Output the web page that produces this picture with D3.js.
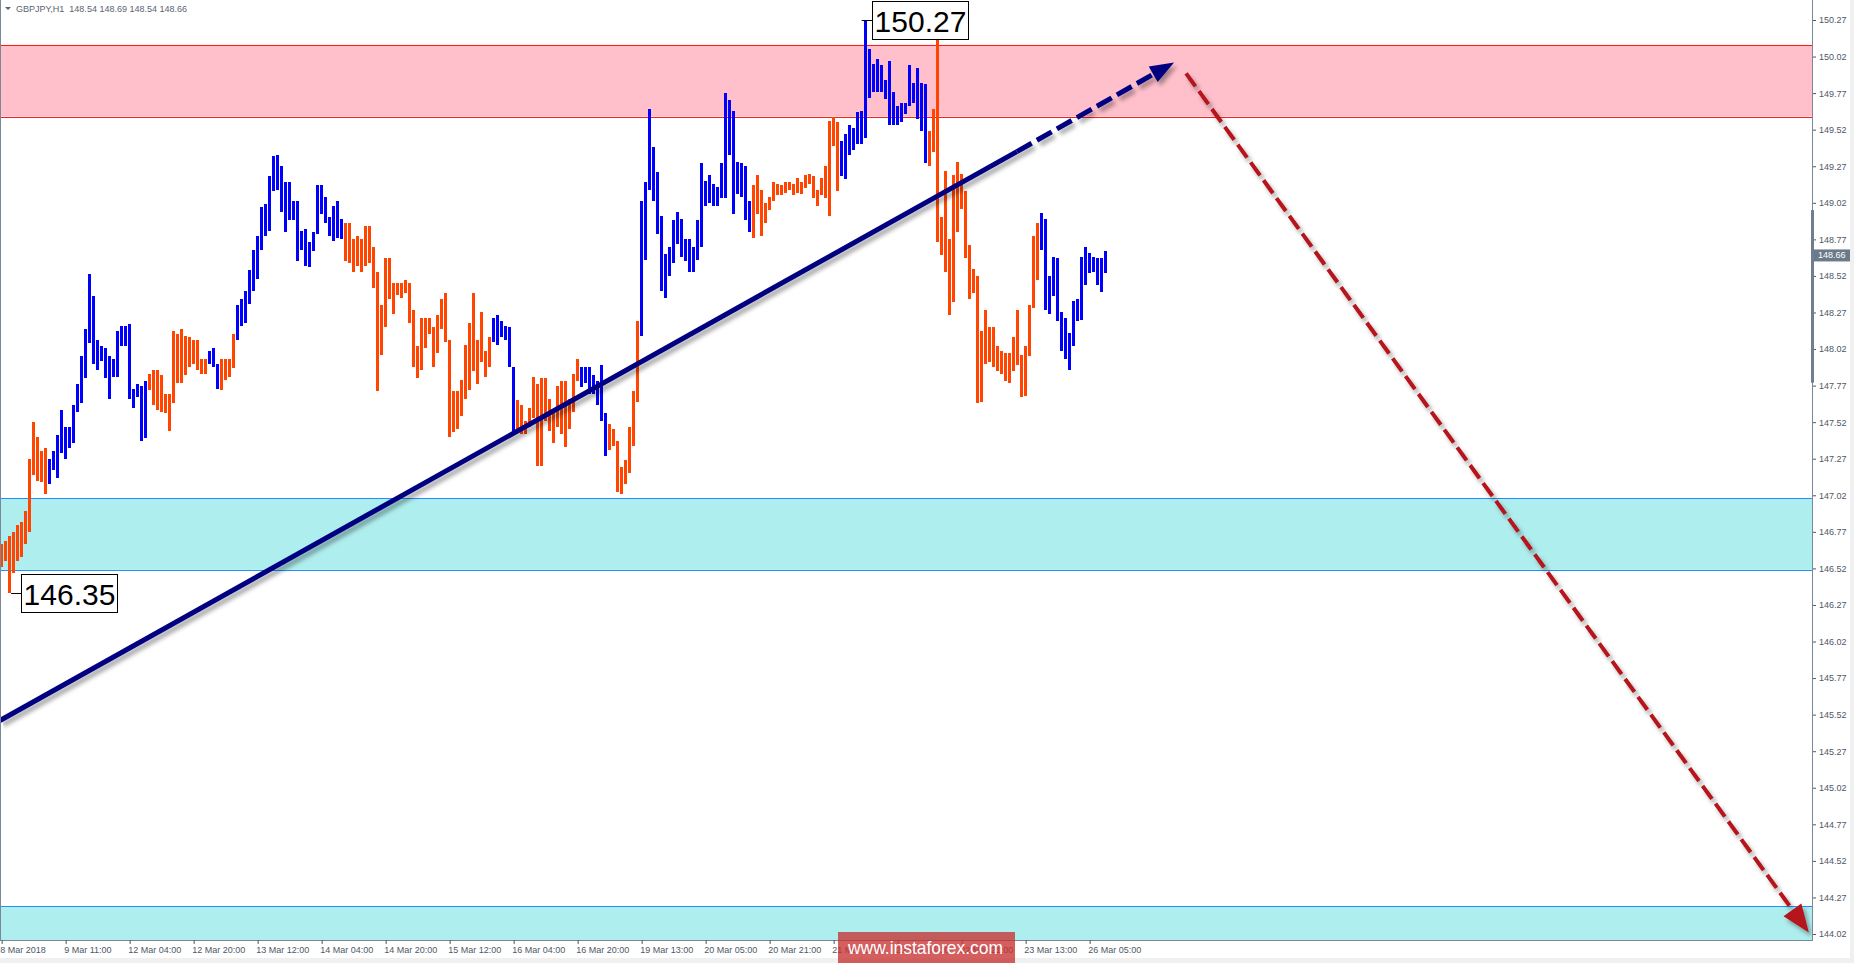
<!DOCTYPE html>
<html><head><meta charset="utf-8">
<script src="https://cdn.jsdelivr.net/npm/d3@7"></script>
<style>
html,body{margin:0;padding:0;background:#fff;overflow:hidden;}
svg{display:block;}
</style></head><body>
<svg id="c" width="1854" height="963"></svg>
<script>
// ---------------- data ----------------
const headerText = "GBPJPY,H1  148.54 148.69 148.54 148.66";
const currentPrice = 148.66;

const highs = [
146.69,146.71,146.74,146.77,146.82,146.84,146.91,147.27,147.52,147.42,
147.32,147.34,147.27,147.32,147.43,147.60,147.49,147.49,147.64,147.78,
147.97,148.16,148.53,148.38,148.08,148.04,148.03,147.97,147.95,148.14,
148.18,148.18,148.19,147.75,147.78,147.77,147.80,147.85,147.88,147.88,
147.84,147.71,147.71,148.14,148.12,148.16,148.11,148.10,148.08,148.08,
147.95,147.95,148.01,148.03,147.92,147.95,147.95,147.95,148.12,148.32,
148.36,148.42,148.56,148.70,148.79,148.99,149.01,149.20,149.34,149.35,
149.27,149.16,149.16,149.03,149.03,148.83,148.84,148.75,148.82,149.14,
149.14,149.06,148.92,149.00,149.03,148.91,148.88,148.88,148.77,148.79,
148.77,148.86,148.86,148.72,148.55,148.32,148.64,148.64,148.47,148.47,
148.47,148.49,148.47,148.29,148.04,148.23,148.23,148.23,148.17,148.25,
148.36,148.40,148.08,147.73,147.73,147.81,148.05,148.20,148.40,148.08,
148.27,148.01,148.10,148.23,148.25,148.21,148.18,148.17,147.90,147.67,
147.64,147.53,147.62,147.83,147.78,147.82,147.82,147.68,147.59,147.77,
147.80,147.80,147.68,147.85,147.95,147.90,147.90,147.90,147.84,147.80,
147.91,147.58,147.51,147.47,147.39,147.21,147.26,147.49,147.73,148.21,
149.03,149.16,149.66,149.40,149.23,148.93,148.67,148.72,148.90,148.96,
148.91,148.77,148.77,148.72,148.90,149.29,149.17,149.21,149.15,149.13,
149.29,149.77,149.72,149.65,149.30,149.29,149.27,149.03,149.14,149.21,
149.11,149.02,149.06,149.16,149.15,149.14,149.16,149.16,149.15,149.19,
149.16,149.21,149.22,149.20,149.11,149.19,149.27,149.58,149.61,149.57,
149.44,149.49,149.55,149.53,149.64,149.65,150.27,150.07,149.97,150.00,
149.96,149.86,149.99,149.78,149.68,149.70,149.70,149.96,149.84,149.94,
149.84,149.83,149.51,149.66,150.16,148.92,149.24,148.77,149.21,149.30,
149.22,149.10,148.73,148.57,148.52,148.14,148.29,148.17,148.17,148.04,
148.01,147.99,147.99,148.10,148.29,147.98,148.04,148.32,148.79,148.88,
148.95,148.91,148.52,148.65,148.64,148.27,148.23,148.13,148.35,148.36,
148.65,148.72,148.68,148.65,148.64,148.64,148.69
];
const lows = [
146.53,146.57,146.35,146.49,146.57,146.60,146.69,146.77,147.16,147.12,
147.11,147.03,147.10,147.19,147.14,147.31,147.27,147.34,147.38,147.59,
147.65,147.82,148.06,147.92,147.88,147.94,147.82,147.68,147.83,147.83,
148.04,148.04,147.68,147.62,147.69,147.39,147.41,147.74,147.64,147.60,
147.59,147.58,147.46,147.65,147.79,147.79,147.84,147.90,147.92,147.88,
147.85,147.85,147.92,147.90,147.75,147.74,147.81,147.83,147.89,148.08,
148.18,148.20,148.33,148.42,148.50,148.70,148.79,148.83,149.10,149.11,
148.96,148.82,148.90,148.90,148.62,148.70,148.59,148.58,148.69,148.81,
148.94,148.88,148.79,148.76,148.78,148.77,148.62,148.61,148.55,148.59,
148.55,148.59,148.61,148.44,147.73,147.98,148.17,148.36,148.26,148.39,
148.37,148.40,148.20,147.90,147.82,147.88,148.03,148.12,147.90,147.99,
148.16,148.07,147.42,147.45,147.47,147.56,147.68,147.74,147.87,147.78,
147.93,147.83,147.90,148.07,148.05,148.10,148.08,147.90,147.45,147.45,
147.44,147.44,147.49,147.55,147.22,147.22,147.53,147.46,147.38,147.49,
147.44,147.35,147.47,147.59,147.80,147.76,147.79,147.71,147.71,147.64,
147.53,147.29,147.33,147.36,147.04,147.03,147.10,147.17,147.36,147.66,
148.11,148.63,149.11,149.03,148.81,148.42,148.37,148.52,148.61,148.74,
148.65,148.62,148.55,148.55,148.63,148.72,149.00,149.02,149.00,149.00,
149.05,149.05,149.35,148.94,149.08,149.06,148.90,148.82,148.78,148.94,
148.79,148.88,148.97,149.03,149.07,149.07,149.09,149.11,149.07,149.09,
149.08,149.12,149.15,149.05,149.00,149.07,149.05,148.93,149.41,149.10,
149.20,149.18,149.35,149.38,149.42,149.42,149.46,149.74,149.78,149.78,
149.78,149.73,149.55,149.55,149.55,149.57,149.63,149.68,149.70,149.59,
149.51,149.29,149.27,149.37,148.75,148.66,148.55,148.25,148.34,148.82,
148.98,148.64,148.36,148.40,147.65,147.66,147.92,147.93,147.90,147.87,
147.85,147.80,147.79,147.87,147.91,147.69,147.70,147.97,148.30,148.49,
148.70,148.29,148.26,148.38,148.21,148.01,147.95,147.88,148.04,148.21,
148.22,148.46,148.54,148.55,148.46,148.41,148.54
];
// 1 = bullish bar (blue), 0 = bearish bar (orange-red)
const dirs = [
0,0,0,0,0,0,0,0,0,0,0,0,
1,1,1,1,1,1,1,1,1,1,1,1,1,1,1,1,1,1,1,1,1,1,1,1,1,
0,0,0,0,0,0,0,0,0,0,0,0,0,0,0,
1,1,1,
0,0,0,0,
1,1,1,1,1,1,1,1,1,1,1,1,1,1,1,1,1,1,1,1,1,1,1,1,1,1,1,
0,0,0,0,0,0,0,0,0,0,0,0,0,0,0,0,0,0,0,0,0,0,0,0,0,0,0,0,0,0,0,0,0,0,0,0,0,
1,1,1,1,1,1,
0,0,0,0,0,0,0,0,0,0,0,0,0,0,0,0,
1,1,1,1,1,1,1,
0,0,0,0,0,0,0,0,
1,1,1,1,1,1,1,1,1,1,1,1,1,1,1,1,1,1,1,1,1,1,1,1,1,1,1,1,
0,0,0,0,0,0,0,0,0,0,0,0,0,0,0,0,0,0,0,0,0,0,
1,1,1,1,1,1,1,1,1,1,1,1,1,1,1,1,1,1,1,1,1,1,
0,0,0,0,0,0,0,0,0,0,0,0,0,0,0,0,0,0,0,0,0,0,0,0,0,0,0,0,
1,1,1,1,1,1,1,1,1,1,1,1,1,1,1,1,1
];

const yTickValues = [150.27,150.02,149.77,149.52,149.27,149.02,148.77,148.52,148.27,148.02,
  147.77,147.52,147.27,147.02,146.77,146.52,146.27,146.02,145.77,145.52,145.27,145.02,
  144.77,144.52,144.27,144.02];
const xTickBars = [0,16,32,48,64,80,96,112,128,144,160,176,192,208,224,240,256,272];
const xTickLabels = ["8 Mar 2018","9 Mar 11:00","12 Mar 04:00","12 Mar 20:00","13 Mar 12:00",
  "14 Mar 04:00","14 Mar 20:00","15 Mar 12:00","16 Mar 04:00","16 Mar 20:00","19 Mar 13:00",
  "20 Mar 05:00","20 Mar 21:00","21 Mar 13:00","22 Mar 05:00","22 Mar 21:00","23 Mar 13:00",
  "26 Mar 05:00"];

// zones (price ranges)
const zoneTops    = [150.10, 147.00, 144.21];
const zoneBottoms = [149.61, 146.51, 143.80];
const zoneKinds   = ["resistance", "support", "support"];

// trend line: [bar, price]
const trendSolid  = [[-0.42, 145.48], [253.8, 149.37]];
const trendDashed = [[253.8, 149.37], [293.1, 149.98]];
// forecast arrow
const forecast    = [[296.1, 149.905], [451.8, 144.03]];

// extreme labels
const extremeBars   = [216, 2];
const extremePrices = [150.27, 146.35];
const extremeKinds  = ["high", "low"];

// ---------------- drawing ----------------
const svg = d3.select("#c");
const plotR = 1812, plotB = 940;
const x = d3.scaleLinear().domain([0, 1]).range([1.67, 5.67]);
const y = d3.scaleLinear().domain([144.02, 150.27]).range([934, 20]);
const FONT = "'Liberation Sans', Arial, sans-serif";
const axisColor = "#4d5866";
const frameColor = "#7a8897";

const defs = svg.append("defs");
defs.append("clipPath").attr("id","plot").append("rect")
  .attr("x",0).attr("y",0).attr("width",plotR).attr("height",plotB);
const f = defs.append("filter").attr("id","sh").attr("filterUnits","userSpaceOnUse")
  .attr("x",0).attr("y",0).attr("width",1854).attr("height",963);
f.append("feGaussianBlur").attr("in","SourceAlpha").attr("stdDeviation",2);
f.append("feOffset").attr("dx",3).attr("dy",4).attr("result","o");
f.append("feFlood").attr("flood-color","#000").attr("flood-opacity",0.35);
f.append("feComposite").attr("in2","o").attr("operator","in");
const fm = f.append("feMerge");
fm.append("feMergeNode"); fm.append("feMergeNode").attr("in","SourceGraphic");

// background strips
svg.append("rect").attr("x",0).attr("y",0).attr("width",1854).attr("height",963).attr("fill","#fff");
svg.append("rect").attr("x",1850).attr("y",0).attr("width",4).attr("height",963).attr("fill","#f0f0f0");
svg.append("rect").attr("x",0).attr("y",958).attr("width",1854).attr("height",5).attr("fill","#f0f0f0");

const plot = svg.append("g").attr("clip-path","url(#plot)");

// zones
const zoneData = zoneTops.map((t,i)=>({top:t, bottom:zoneBottoms[i], kind:zoneKinds[i]}));
plot.selectAll("rect.zone").data(zoneData).join("rect").attr("class","zone")
  .attr("x",0).attr("width",plotR)
  .attr("y",d=>y(d.top)).attr("height",d=>y(d.bottom)-y(d.top))
  .attr("fill",d=>d.kind==="resistance"?"#ffc0cb":"#afeeee");
zoneData.forEach(d=>{
  const c = d.kind==="resistance" ? "#ff1a1a" : "#1e90ff";
  [d.top, d.bottom].forEach(p=>{
    plot.append("line").attr("x1",0).attr("x2",plotR)
      .attr("y1",Math.round(y(p))+0.5).attr("y2",Math.round(y(p))+0.5)
      .attr("stroke",c).attr("stroke-width",1);
  });
});

// bars
const bars = highs.map((h,i)=>({i, h, l:lows[i], up:dirs[i]}));
plot.selectAll("rect.bar").data(bars).join("rect").attr("class","bar")
  .attr("x",d=>Math.round(x(d.i)-1.5)).attr("width",3)
  .attr("y",d=>Math.round(y(d.h)))
  .attr("height",d=>Math.max(1,Math.round(y(d.l))-Math.round(y(d.h))))
  .attr("fill",d=>d.up?"#0000ff":"#ff4500");

// annotation lines
function arrowHead(p0, p1, L, Wd){
  const x0=x(p0[0]), y0=y(p0[1]), x1=x(p1[0]), y1=y(p1[1]);
  const dx=x1-x0, dy=y1-y0, len=Math.hypot(dx,dy), ux=dx/len, uy=dy/len;
  const bx=x1-L*ux, by=y1-L*uy;
  return [[x1,y1],[bx-Wd*uy, by+Wd*ux],[bx+Wd*uy, by-Wd*ux]];
}
function shorten(p0,p1,d){
  const x0=x(p0[0]), y0=y(p0[1]), x1=x(p1[0]), y1=y(p1[1]);
  const len=Math.hypot(x1-x0,y1-y0);
  return [x0,y0,x1-(x1-x0)*d/len,y1-(y1-y0)*d/len];
}
const ann = plot.append("g").attr("filter","url(#sh)");
ann.append("line")
  .attr("x1",x(trendSolid[0][0])).attr("y1",y(trendSolid[0][1]))
  .attr("x2",x(trendSolid[1][0])).attr("y2",y(trendSolid[1][1]))
  .attr("stroke","#000080").attr("stroke-width",5);
{
  const s = shorten(trendDashed[0], trendDashed[1], 18);
  ann.append("line").attr("x1",s[0]).attr("y1",s[1]).attr("x2",s[2]).attr("y2",s[3])
    .attr("stroke","#000080").attr("stroke-width",5).attr("stroke-dasharray","17,6");
  ann.append("polygon").attr("points",arrowHead(trendDashed[0],trendDashed[1],24,9).map(p=>p.join(",")).join(" "))
    .attr("fill","#000080");
}
{
  const s = shorten(forecast[0], forecast[1], 22);
  ann.append("line").attr("x1",s[0]).attr("y1",s[1]).attr("x2",s[2]).attr("y2",s[3])
    .attr("stroke","#b5121b").attr("stroke-width",4).attr("stroke-dasharray","16,6");
  ann.append("polygon").attr("points",arrowHead(forecast[0],forecast[1],28,11).map(p=>p.join(",")).join(" "))
    .attr("fill","#b5121b");
}

// extreme price labels
extremeBars.forEach((b,k)=>{
  const p = extremePrices[k], bx = x(b), py = Math.round(y(p))+0.5;
  const gap = extremeKinds[k]==="high" ? 6 : 11;
  const left = Math.round(bx + gap)+0.5;
  const g = plot.append("g");
  g.append("line").attr("x1",extremeKinds[k]==="high"?bx-4:bx+1.5).attr("x2",left)
    .attr("y1",py).attr("y2",py).attr("stroke","#000").attr("stroke-width",1);
  g.append("rect").attr("x",left).attr("y",py-19).attr("width",96).attr("height",38)
    .attr("fill","#fff").attr("stroke","#000").attr("stroke-width",1);
  g.append("text").attr("x",left+48).attr("y",py+1).attr("text-anchor","middle")
    .attr("dominant-baseline","central").attr("font-family",FONT).attr("font-size",30)
    .attr("fill","#000").text(p.toFixed(2));
});

// frame
svg.append("line").attr("x1",0.5).attr("x2",0.5).attr("y1",0).attr("y2",plotB).attr("stroke",frameColor);
svg.append("line").attr("x1",0).attr("x2",plotR).attr("y1",plotB+0.5).attr("y2",plotB+0.5).attr("stroke",frameColor);
svg.append("line").attr("x1",plotR+0.5).attr("x2",plotR+0.5).attr("y1",0).attr("y2",plotB+1).attr("stroke",frameColor);

// right axis
const ya = svg.append("g").attr("transform",`translate(${plotR+1},0)`)
  .call(d3.axisRight(y).tickValues(yTickValues).tickSize(3).tickPadding(3)
    .tickSizeOuter(0).tickFormat(d3.format(".2f")));
ya.select(".domain").remove();
ya.selectAll("line").attr("stroke",axisColor);
ya.selectAll("text").attr("font-family",FONT).attr("font-size",9).attr("fill",axisColor);

// gray range marker on axis
svg.append("rect").attr("x",plotR-1).attr("width",3)
  .attr("y",y(148.97)).attr("height",y(147.79)-y(148.97)).attr("fill","#6f7d8c");

// current price tag
{
  const cy = y(currentPrice);
  svg.append("rect").attr("x",plotR+2).attr("y",cy-6).attr("width",36).attr("height",12).attr("fill","#6b7a8a");
  svg.append("text").attr("x",plotR+6).attr("y",cy).attr("dominant-baseline","central")
    .attr("font-family",FONT).attr("font-size",9).attr("fill","#fff").text(currentPrice.toFixed(2));
}

// bottom axis
const xa = svg.append("g").attr("transform",`translate(0,${plotB})`)
  .call(d3.axisBottom(x).tickValues(xTickBars).tickSize(4).tickPadding(3).tickSizeOuter(0)
    .tickFormat((d,i)=>xTickLabels[i]));
xa.select(".domain").remove();
xa.selectAll("line").attr("stroke",axisColor);
xa.selectAll("text").attr("font-family",FONT).attr("font-size",9).attr("fill",axisColor)
  .attr("text-anchor","start").attr("dx",-2);

// header
svg.append("path").attr("d","M5,7 L11,7 L8,10 Z").attr("fill","#5b6470");
svg.append("text").attr("x",16).attr("y",12).attr("font-family",FONT).attr("font-size",9)
  .attr("fill","#5b6470").attr("xml:space","preserve").style("white-space","pre").text(headerText);

// watermark
svg.append("rect").attr("x",838).attr("y",932).attr("width",177).attr("height",31)
  .attr("fill","#c83232").attr("opacity",0.78);
svg.append("text").attr("x",848).attr("y",954).attr("font-family",FONT).attr("font-size",19)
  .attr("fill","#fff").attr("textLength",155).attr("lengthAdjust","spacingAndGlyphs")
  .text("www.instaforex.com");
</script>
</body></html>
